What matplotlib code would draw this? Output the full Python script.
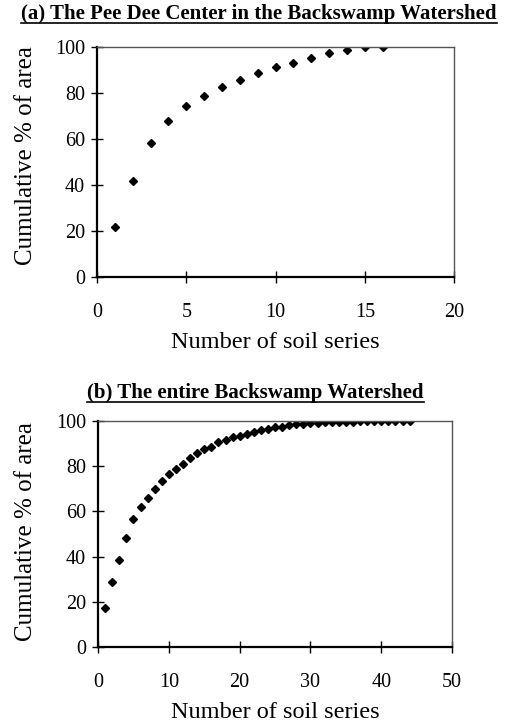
import matplotlib
matplotlib.use("Agg")
import matplotlib.pyplot as plt
from matplotlib.lines import Line2D

plt.rcParams['font.family'] = ['Liberation Serif', 'DejaVu Serif']

# (a) Pee Dee Center: cumulative % of area vs number of soil series
n_a = list(range(1, 17))
cum_a = [21.9, 41.7, 58.1, 67.7, 74.5, 78.7, 82.5, 85.9, 88.9, 91.3,
         93.3, 95.5, 97.4, 98.7, 100.0, 100.0]

# (b) entire Backswamp Watershed
n_b = list(range(1, 45))
cum_b = [17.1, 28.9, 38.5, 48.1, 56.8, 61.8, 65.8, 69.8, 73.5, 76.7,
         78.8, 81.1, 83.6, 85.7, 87.6, 88.6, 90.6, 91.6, 92.8, 93.5,
         94.5, 95.1, 96.0, 96.6, 97.2, 97.6, 98.1, 98.5, 98.8, 99.0,
         99.2, 99.4, 99.5, 99.6, 99.7, 99.8, 99.85, 99.9, 99.95, 100.0,
         100.0, 100.0, 100.0, 100.0]

titles = ["(a) The Pee Dee Center in the Backswamp Watershed",
          "(b) The entire Backswamp Watershed"]

fig = plt.figure(figsize=(5.08, 7.26), dpi=100)
ax1 = fig.add_axes([0.191, 0.6185, 0.703, 0.3165])
ax2 = fig.add_axes([0.193, 0.1088, 0.697, 0.3112])

def style(ax, xmax, xstep, ms, x, y, xlab_y, ylab_x, ylab_y):
    ax.plot(x, y, linestyle='none', marker='D', color='black', markersize=ms)
    ax.set_xlim(0, xmax)
    ax.set_ylim(0, 100)
    ax.set_xticks(range(0, xmax + 1, xstep))
    ax.set_yticks(range(0, 101, 20))
    ax.tick_params(direction='inout', length=9, width=1, labelsize=14.5,
                   colors='black')
    ax.tick_params(axis='y', pad=4)
    ax.tick_params(axis='x', pad=14)
    for s in ['left', 'bottom']:
        ax.spines[s].set_linewidth(1.6)
    for s in ['top', 'right']:
        ax.spines[s].set_linewidth(1.0)
        ax.spines[s].set_color('#555555')
    ax.set_xlabel("Number of soil series", fontsize=17.5)
    ax.set_ylabel("Cumulative % of area", fontsize=18)
    ax.xaxis.set_label_coords(0.5, xlab_y)
    ax.xaxis.label.set_va('center')
    ax.yaxis.set_label_coords(ylab_x, ylab_y)
    ax.yaxis.label.set_va('center')

style(ax1, 20, 5, 4.4, n_a, cum_a, -0.287, -0.199, 0.53)
style(ax2, 50, 10, 3.9, n_b, cum_b, -0.292, -0.204, 0.51)

t1 = fig.text(0.51, 1 - 14 / 726, titles[0], ha='center', va='center',
              fontsize=15, fontweight='bold')
t2 = fig.text(0.503, 1 - 393 / 726, titles[1], ha='center', va='center',
              fontsize=15, fontweight='bold')

# underline the titles
fig.canvas.draw()
r = fig.canvas.get_renderer()
for t in [t1, t2]:
    bb = t.get_window_extent(r).transformed(fig.transFigure.inverted())
    yy = bb.y0 + 0.002
    fig.add_artist(Line2D([bb.x0, bb.x1], [yy, yy], color='black',
                          linewidth=1.2, transform=fig.transFigure))

fig.savefig("out.png", dpi=100)
